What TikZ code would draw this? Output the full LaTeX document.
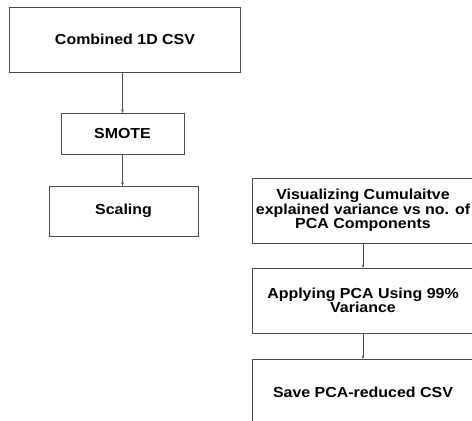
\documentclass[tikz,border=0pt]{standalone}
\usepackage{fontspec}
\newfontfamily\boxfont{Liberation Sans}[FakeStretch=1.1]
\usepackage{tikz}
\usetikzlibrary{positioning,arrows.meta}
\definecolor{edgegray}{HTML}{4A4A4A}
\tikzstyle{line} = [draw=edgegray,line width=0.8pt,-{Stealth[length=3.5pt,width=2.6pt]}]

\begin{document}
\begin{tikzpicture}[x=1pt,y=1pt,node distance=41pt,
            stage/.style = {rectangle, draw=edgegray, line width=0.9pt,
              inner sep=0pt, outer sep=0pt, align=center,
              font=\boxfont\bfseries\fontsize{14.5}{14.5}\selectfont}]
            \useasboundingbox (0,0) rectangle (472,-421);
            \clip (0,0) rectangle (472,-421);
            \node[stage, minimum width=231pt, minimum height=65pt] (node1) at (125,-39.5) {Combined 1D CSV};
            \node[stage, minimum width=123pt, minimum height=41pt] (node2) [below = of node1, xshift=-2.5pt] {SMOTE};
            \node[stage, minimum width=149pt, minimum height=50pt, node distance=32pt] (node3) [below = of node2, xshift=1pt] {Scaling};
            \path [line] (node1.south -| node2.north) -- (node2);
            \path [line] (node2) -- (node3.north -| node2.south);
            \node[stage, minimum width=222pt, minimum height=65pt] (node4) at (363,-210.5) {Visualizing Cumulaitve\\explained variance vs no. of\\PCA Components};
            \node[stage, minimum width=222pt, minimum height=65pt, node distance=25pt] (node5) [below = of node4] {Applying PCA Using 99\%\\Variance};
            \node[stage, minimum width=222pt, minimum height=66pt, node distance=26pt] (node6) [below = of node5] {Save PCA-reduced CSV};
            \path [line] (node4) -- (node5);
            \path [line] (node5) -- (node6);
\end{tikzpicture}
\end{document}
